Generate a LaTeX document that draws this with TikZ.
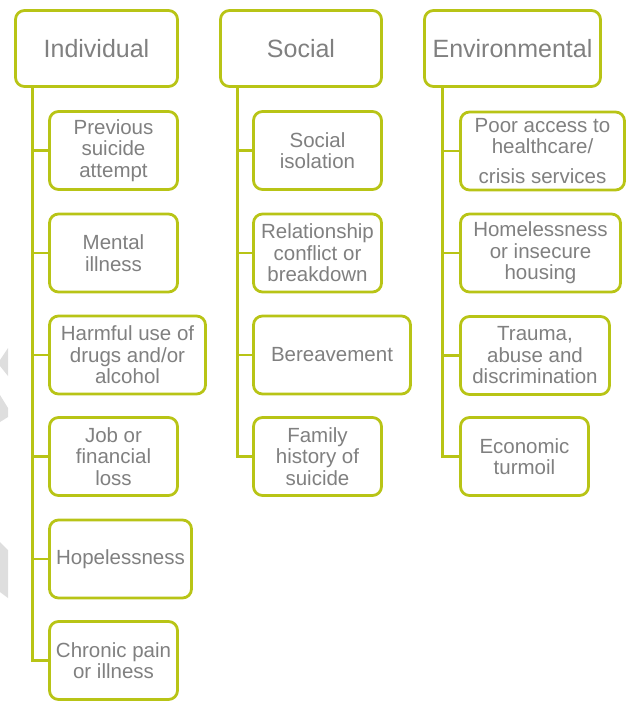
\documentclass[tikz,border=0pt]{standalone}
\usepackage{fontspec}
\setmainfont{Liberation Sans}
\definecolor{lime}{RGB}{184,196,22}
\definecolor{txt}{RGB}{128,128,128}
\definecolor{wm}{RGB}{222,222,222}
\begin{document}
\begin{tikzpicture}[x=1pt,y=-1pt,
  box/.style={draw=lime, line width=2.8pt, rounded corners=9pt, fill=white,
    text=txt, align=center, inner sep=2pt},
  head/.style={box, minimum height=76pt, font=\fontsize{25}{28}\selectfont},
  sub/.style={box, minimum height=78pt, font=\fontsize{20.5}{21.5}\selectfont},
  conn/.style={draw=lime, line width=2.8pt}]
\useasboundingbox (0,0) rectangle (633,702);
% faint watermark pieces
\fill[wm] (8,348) -- (0,360) -- (0,366) -- (8,376) -- cycle;
\fill[wm] (0,395) -- (8,408) -- (8,417) -- (0,422) -- cycle;
\fill[wm] (0,542) -- (8,550) -- (8,598) -- (0,592) -- cycle;
% headers
\node[head, minimum width=162pt] (h1) at (96.5,48.5) {Individual};
\node[head, minimum width=161pt] (h2) at (301,48.5) {Social};
\node[head, minimum width=176pt] (h3) at (512.5,48.5) {Environmental};
% column 1
\node[sub, minimum width=128pt] (p1) at (113.5,150.5) {Previous\\suicide\\attempt};
\node[sub, minimum width=128pt] (p2) at (113.5,253) {Mental\\illness};
\node[sub, minimum width=156pt] (p3) at (127.5,355) {Harmful use of\\drugs and/or\\alcohol};
\node[sub, minimum width=128pt] (p4) at (113.5,456.5) {Job or\\financial\\loss};
\node[sub, minimum width=142pt] (p5) at (120.5,559) {Hopelessness};
\node[sub, minimum width=128pt] (p6) at (113.5,660.5) {Chronic pain\\or illness};
% column 2
\node[sub, minimum width=128pt] (s1) at (317.5,150.5) {Social\\isolation};
\node[sub, minimum width=128pt] (s2) at (317.5,253) {Relationship\\conflict or\\breakdown};
\node[sub, minimum width=157pt] (s3) at (332,355) {Bereavement};
\node[sub, minimum width=128pt] (s4) at (317.5,456.5) {Family\\history of\\suicide};
% column 3
\node[sub, minimum width=164pt] (e1) at (542.5,151) {Poor access to\\healthcare/\\[8pt]crisis services};
\node[sub, minimum width=160pt] (e2) at (540.5,253) {Homelessness\\or insecure\\housing};
\node[sub, minimum width=149pt] (e3) at (535,355.5) {Trauma,\\abuse and\\discrimination};
\node[sub, minimum width=128pt] (e4) at (524.5,456.5) {Economic\\turmoil};
% trunks
\coordinate (t1) at ([xshift=18.5pt]h1.south west);
\coordinate (t2) at ([xshift=18pt]h2.south west);
\coordinate (t3) at ([xshift=19pt]h3.south west);
\draw[conn] (t1) |- (p6.west);
\foreach \b in {p1,p2,p3,p4,p5} \draw[conn] (\b.west) -- (\b.west -| t1);
\draw[conn] (t2) |- (s4.west);
\foreach \b in {s1,s2,s3} \draw[conn] (\b.west) -- (\b.west -| t2);
\draw[conn] (t3) |- (e4.west);
\foreach \b in {e1,e2,e3} \draw[conn] (\b.west) -- (\b.west -| t3);
\end{tikzpicture}
\end{document}
